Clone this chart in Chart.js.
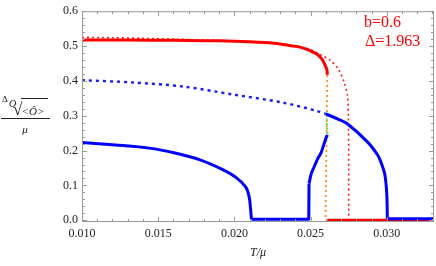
<!DOCTYPE html>
<html>
<head>
<meta charset="utf-8">
<script src="https://cdn.jsdelivr.net/npm/chart.js@4/dist/chart.umd.min.js"></script>
<style>
  html, body { margin: 0; padding: 0; background: #fff; }
  #wrap { width: 436px; height: 266px; }
</style>
</head>
<body>
<div id="wrap"><canvas id="chart"></canvas></div>
<script>
// T/mu values and condensate values
const redSolidT   = [0.010, 0.013, 0.016, 0.018, 0.020, 0.021, 0.022, 0.023, 0.0237, 0.0243, 0.0248, 0.0252, 0.0255, 0.0258, 0.0260, 0.02608, 0.0261];
const redSolidV   = [0.517, 0.517, 0.5165, 0.5155, 0.514, 0.5125, 0.510, 0.506, 0.501, 0.497, 0.490, 0.482, 0.474, 0.459, 0.440, 0.430, 0.417];
const redZeroT    = [0.0261, 0.0331];
const redZeroV    = [0, 0];
const redDotT     = [0.010, 0.012, 0.014, 0.016, 0.018, 0.020, 0.022, 0.023, 0.024, 0.025, 0.0256, 0.0263, 0.02686, 0.02719, 0.02741, 0.02748, 0.0275, 0.0275];
const redDotV     = [0.525, 0.524, 0.522, 0.520, 0.517, 0.5145, 0.5105, 0.507, 0.500, 0.490, 0.476, 0.459, 0.431, 0.398, 0.361, 0.30, 0.15, 0];
const blueLeftT   = [0.010, 0.0122, 0.0144, 0.0161, 0.0177, 0.0192, 0.0201, 0.02075, 0.02097, 0.02107, 0.02112];
const blueLeftV   = [0.2235, 0.216, 0.207, 0.193, 0.174, 0.146, 0.123, 0.095, 0.067, 0.029, 0.003];
const blueFlatT   = [0.02112, 0.02488, 0.0249];
const blueFlatV   = [0.003, 0.003, 0.105];
const blueRiseT   = [0.0249, 0.02505, 0.0252, 0.02545, 0.0257, 0.0259, 0.02605, 0.02611];
const blueRiseV   = [0.105, 0.135, 0.150, 0.175, 0.195, 0.222, 0.240, 0.245];
const blueHighT   = [0.0260, 0.02676, 0.02741, 0.02873, 0.02939, 0.0296, 0.02987, 0.0300, 0.03004];
const blueHighV   = [0.305, 0.291, 0.277, 0.225, 0.188, 0.169, 0.132, 0.076, 0.004];
const blueTailT   = [0.03004, 0.0331];
const blueTailV   = [0.004, 0.004];
const blueDotT    = [0.010, 0.0133, 0.0166, 0.0199, 0.0232, 0.0254, 0.0260];
const blueDotV    = [0.402, 0.3955, 0.384, 0.361, 0.3375, 0.314, 0.305];
const orangeT     = [0.0261, 0.02598];
const orangeV     = [0.417, 0];
const greenT      = [0.02603, 0.02611];
const greenV      = [0.305, 0.245];

const xTicks = [0.010, 0.015, 0.020, 0.025, 0.030];
const xTickLabels = ["0.010", "0.015", "0.020", "0.025", "0.030"];
const yTicks = [0.0, 0.1, 0.2, 0.3, 0.4, 0.5, 0.6];
const yTickLabels = ["0.0", "0.1", "0.2", "0.3", "0.4", "0.5", "0.6"];

const pts = (xs, ys) => xs.map((x, i) => ({ x: x, y: ys[i] }));
const serif = "'Liberation Serif', 'DejaVu Serif', serif";

function line(data, color, width, dash, tension) {
    return {
        data: data,
        borderColor: color,
        borderWidth: width,
        borderDash: dash || [],
        borderCapStyle: "butt",
        borderJoinStyle: "round",
        pointRadius: 0,
        fill: false,
        tension: tension || 0,
        showLine: true
    };
}

// frame with inward ticks, titles and the parameter note
const frame = {
    id: "frame",
    afterDraw(chart) {
        const { ctx, chartArea: a, scales: { x, y } } = chart;
        ctx.save();
        ctx.strokeStyle = "#9a9a9a";
        ctx.lineWidth = 1;
        ctx.strokeRect(a.left + 0.5, a.top + 0.5, a.right - a.left - 1, a.bottom - a.top - 1);
        ctx.beginPath();
        for (let i = 10; i <= 33; i++) {
            const px = Math.round(x.getPixelForValue(i / 1000)) + 0.5;
            const len = i % 5 === 0 ? 5 : 3;
            ctx.moveTo(px, a.bottom); ctx.lineTo(px, a.bottom - len);
            ctx.moveTo(px, a.top); ctx.lineTo(px, a.top + len);
        }
        for (let i = 0; i <= 30; i++) {
            const py = Math.round(y.getPixelForValue(i * 0.02)) + 0.5;
            const len = i % 5 === 0 ? 5 : 3;
            ctx.moveTo(a.left, py); ctx.lineTo(a.left + len, py);
            ctx.moveTo(a.right, py); ctx.lineTo(a.right - len, py);
        }
        ctx.stroke();

        // x title
        ctx.fillStyle = "#222";
        ctx.textAlign = "center";
        ctx.textBaseline = "alphabetic";
        ctx.font = "italic 12px " + serif;
        ctx.fillText("T/μ", (a.left + a.right) / 2, 256);

        // y title: Delta_O-th root of <O> over mu
        ctx.textAlign = "left";
        ctx.font = "9px " + serif;
        ctx.fillText("Δ", 2, 102);
        ctx.font = "italic 10px " + serif;
        ctx.fillText("O", 9, 107);
        ctx.font = "17px " + serif;
        ctx.fillText("√", 13, 115);
        ctx.font = "italic 11px " + serif;
        ctx.textAlign = "center";
        ctx.fillText("<Ô>", 33, 115);
        ctx.fillText("μ", 25, 133);
        ctx.strokeStyle = "#222";
        ctx.beginPath();
        ctx.moveTo(21, 98.5); ctx.lineTo(48, 98.5);
        ctx.moveTo(1, 118.5); ctx.lineTo(50, 118.5);
        ctx.stroke();

        // parameters
        ctx.fillStyle = "#ff0000";
        ctx.textAlign = "left";
        ctx.font = "16px " + serif;
        ctx.fillText("b=0.6", 364, 27);
        ctx.fillText("Δ=1.963", 365, 46);
        ctx.restore();
    }
};

new Chart(document.getElementById("chart"), {
    type: "scatter",
    data: {
        datasets: [
            line(pts(blueHighT, blueHighV), "#0000ff", 3, null, 0.3),
            line(pts(blueTailT, blueTailV), "#0000ff", 3),
            line(pts(blueLeftT, blueLeftV), "#0000ff", 3, null, 0.3),
            line(pts(blueFlatT, blueFlatV), "#0000ff", 3),
            line(pts(blueRiseT, blueRiseV), "#0000ff", 3, null, 0.3),
            line(pts(redSolidT, redSolidV), "#ff0000", 3, null, 0.3),
            line(pts(redZeroT, redZeroV), "#ff0000", 3),
            line(pts(greenT, greenV), "#44dd44", 1.8, [2, 2.5]),
            line(pts(orangeT, orangeV), "#ff8c1a", 1.8, [2, 3]),
            line(pts(redDotT, redDotV), "#ff1a1a", 1.6, [2, 3], 0.3),
            line(pts(blueDotT, blueDotV), "#1a1aff", 2.4, [3, 4], 0.3)
        ]
    },
    options: {
        responsive: true,
        maintainAspectRatio: false,
        animation: false,
        layout: { padding: { left: 0, right: 2, top: 6, bottom: 0 } },
        plugins: { legend: { display: false }, tooltip: { enabled: false } },
        scales: {
            x: {
                type: "linear",
                min: 0.010,
                max: 0.0331,
                grid: { display: false, drawTicks: false },
                border: { display: false },
                afterBuildTicks: s => { s.ticks = xTicks.map(v => ({ value: v })); },
                afterFit: s => { s.height = 44; },
                ticks: {
                    padding: 5,
                    color: "#222",
                    font: { family: serif, size: 12 },
                    maxRotation: 0,
                    callback: (v, i) => xTickLabels[i]
                }
            },
            y: {
                type: "linear",
                min: -0.005,
                max: 0.6,
                grid: { display: false, drawTicks: false },
                border: { display: false },
                afterBuildTicks: s => { s.ticks = yTicks.map(v => ({ value: v })); },
                afterFit: s => { s.width = 82; },
                ticks: {
                    padding: 4,
                    color: "#222",
                    font: { family: serif, size: 12 },
                    callback: (v, i) => yTickLabels[i]
                }
            }
        }
    },
    plugins: [frame]
});
</script>
</body>
</html>
